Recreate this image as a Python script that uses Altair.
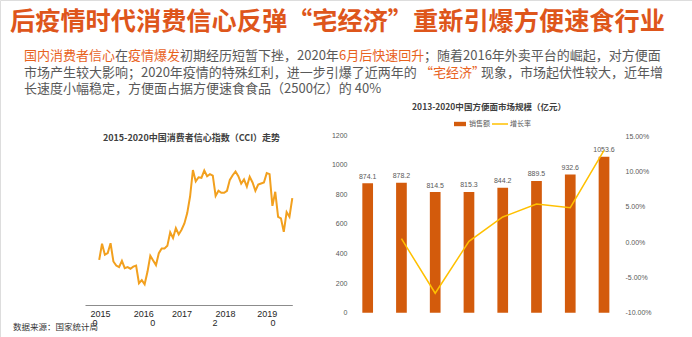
import altair as alt
import pandas as pd

# ---------------- data ----------------
TITLE = "后疫情时代消费信心反弹“宅经济”重新引爆方便速食行业"

line1_texts = ["国内消费者信心", "在", "疫情爆发", "初期经历短暂下挫，2020年", "6月后快速回升", "；随着2016年外卖平台的崛起，对方便面"]
line1_hl = [True, False, True, False, True, False]
line2_texts = ["市场产生较大影响；2020年疫情的特殊红利，进一步引爆了近两年的", "“宅经济”", "现象，市场起伏性较大，近年增"]
line2_hl = [False, True, False]
line3_texts = ["长速度小幅稳定，方便面占据方便速食食品（2500亿）的 40%"]
line3_hl = [False]

CCI_TITLE = "2015-2020中国消费者信心指数（CCI）走势"
cci_values = [104.7, 107.8, 105.7, 106.0, 107.9, 104.4, 103.6, 103.3, 104.5, 103.1, 103.3, 103.0,
              103.4, 103.6, 100.2, 100.8, 100.0, 102.4, 105.5, 104.6, 103.7, 106.0, 106.9, 106.9,
              107.4, 110.0, 108.9, 110.8, 109.6, 110.5, 111.7, 113.7, 116.9, 122.0, 119.8, 120.6,
              120.5, 121.9, 120.8, 121.2, 120.9, 117.0, 118.0, 117.6, 117.6, 118.0, 120.1, 121.0,
              121.7, 120.8, 119.4, 120.2, 118.8, 120.7, 119.6, 118.0, 119.2, 119.4, 119.6, 121.4,
              121.2, 115.1, 117.8, 113.0, 112.7, 110.1, 113.9, 113.0, 116.6]
cci_tick_labels = ["2015", "2016", "2017", "2018", "2019"]
cci_tick_pos = [0.3, 15.5, 29.0, 44.3, 59.0]
cci_extra_labels = ["0", "0", "2", "0"]
cci_extra_pos = [-1.5, 18.9, 40.8, 61.2]
SOURCE = "数据来源：国家统计局"

MKT_TITLE = "2013-2020中国方便面市场规模（亿元）"
years = ["2013", "2014", "2015", "2016", "2017", "2018", "2019", "2020"]
sales = [874.1, 878.2, 814.5, 815.3, 844.2, 889.5, 932.6, 1053.6]
growth_years = ["2014", "2015", "2016", "2017", "2018", "2019", "2020"]
growth = [0.0047, -0.0725, 0.0010, 0.0354, 0.0537, 0.0485, 0.1297]
sales_ticks = [0, 200, 400, 600, 800, 1000, 1200]
growth_ticks = [-0.10, -0.05, 0.0, 0.05, 0.10, 0.15]
legend_labels = ["销售额", "增长率"]

# ---------------- styles ----------------
FONT = "Noto Sans CJK SC"
GREY = "#595959"
HL = "#E8621E"
TITLE_C = "#DE561B"
BAR_C = "#D35B0C"
LINE_C = "#FFC000"
CCI_C = "#F2A01E"


def txt(s, x, y, size, color, weight="normal", align="left", font=FONT):
    return alt.Chart(pd.DataFrame({"t": [s]})).mark_text(
        align=align, baseline="middle", fontSize=size, color=color,
        fontWeight=weight, font=font
    ).encode(x=alt.value(x), y=alt.value(y), text="t:N")


layers = []
# header
layers.append(txt(TITLE, 10, 21.5, 25.2, TITLE_C, weight="bold"))
for texts, hls, xs, y in [
    (line1_texts, line1_hl, [24, 115, 128, 180, 339, 424], 56),
    (line2_texts, line2_hl, [24, 420, 481], 72.7),
    (line3_texts, line3_hl, [24], 89),
]:
    for t, h, x in zip(texts, hls, xs):
        layers.append(txt(t, x, y, 13, HL if h else GREY))

# ---------------- CCI chart ----------------
xs_cci = alt.Scale(domain=[-5, 68], range=[85, 292.3], nice=False, zero=False)
expr = "''"
for p, l in reversed(list(zip(cci_tick_pos, cci_tick_labels))):
    expr = f"abs(datum.value - {p}) < 0.01 ? '{l}' : ({expr})"

cci_df = pd.DataFrame({"m": list(range(len(cci_values))), "v": cci_values})
cci_line = alt.Chart(cci_df).mark_line(color=CCI_C, strokeWidth=2).encode(
    x=alt.X("m:Q", scale=xs_cci, axis=alt.Axis(
        orient="bottom", offset=-32, values=cci_tick_pos, labelExpr=expr,
        grid=False, ticks=False, domainColor="#8C8C8C", domainWidth=1.2,
        labelFontSize=9, labelColor="#262626", labelFont="Liberation Sans",
        labelPadding=4, title=None, labelFlush=False, labelOverlap=False)),
    y=alt.Y("v:Q", scale=alt.Scale(domain=[100, 122], range=[284.3, 170], zero=False, nice=False), axis=None),
)
frag_df = pd.DataFrame({"p": cci_extra_pos, "t": cci_extra_labels})
cci_frag = alt.Chart(frag_df).mark_text(
    fontSize=9, color="#262626", font="Liberation Sans", baseline="middle"
).encode(x=alt.X("p:Q", scale=xs_cci, axis=None), y=alt.value(323), text="t:N")
layers.append(cci_line)
layers.append(cci_frag)
layers.append(txt(CCI_TITLE, 191.5, 138, 9, "#404040", weight="bold", align="center"))
layers.append(txt(SOURCE, 13, 327, 8.5, "#333333"))

# ---------------- market chart ----------------
xs_bar = alt.Scale(domain=years, range=[350.8, 620.9], paddingInner=0.683, paddingOuter=0.3415)
ys_bar = alt.Scale(domain=[0, 1200], range=[312.7, 135], nice=False, zero=True)
sales_df = pd.DataFrame({"year": years, "sales": sales})
growth_df = pd.DataFrame({"year": growth_years, "g": growth})

bars = alt.Chart(sales_df).mark_bar(color=BAR_C).encode(
    x=alt.X("year:N", scale=xs_bar, sort=None, axis=alt.Axis(
        orient="bottom", offset=-24.3, labelAngle=0, ticks=False,
        domainColor="#D9D9D9", labelFontSize=7, labelColor=GREY,
        labelFont="Liberation Sans", labelPadding=3, title=None, grid=False)),
    y=alt.Y("sales:Q", scale=ys_bar, axis=alt.Axis(
        orient="left", offset=-349, values=sales_ticks, format="d", domain=False, ticks=False,
        grid=False, labelFontSize=7, labelColor=GREY, labelFont="Liberation Sans",
        labelPadding=2, title=None)),
)
blabels = alt.Chart(sales_df).mark_text(
    dy=-6.5, fontSize=7, color=GREY, font="Liberation Sans", baseline="middle"
).encode(
    x=alt.X("year:N", scale=xs_bar, sort=None, axis=None),
    y=alt.Y("sales:Q", scale=ys_bar, axis=None),
    text=alt.Text("sales:Q", format=".1f"),
)
gline = alt.Chart(growth_df).mark_line(color=LINE_C, strokeWidth=1.5).encode(
    x=alt.X("year:N", scale=xs_bar, sort=None, axis=None),
    y=alt.Y("g:Q", scale=alt.Scale(domain=[-0.10, 0.15], range=[312.7, 136], nice=False, zero=False),
            axis=alt.Axis(orient="right", offset=-69, values=growth_ticks,
                          labelExpr="replace(format(datum.value, '.2%'), '\u2212', '-')",
                          domain=False, ticks=False, grid=False, labelFontSize=7,
                          labelColor=GREY, labelFont="Liberation Sans", labelPadding=2, title=None)),
)
layers.append(alt.layer(bars, blabels, gline).resolve_scale(y="independent"))
layers.append(txt(MKT_TITLE, 489, 107, 8.5, "#404040", weight="bold", align="center"))

# legend
dummy = pd.DataFrame({"a": [0]})
layers.append(alt.Chart(dummy).mark_rect(color=BAR_C).encode(
    x=alt.value(454), x2=alt.value(466), y=alt.value(121.8), y2=alt.value(126.2)))
layers.append(alt.Chart(dummy).mark_rule(color=LINE_C, strokeWidth=1.5).encode(
    x=alt.value(492), x2=alt.value(508), y=alt.value(124)))
layers.append(txt(legend_labels[0], 469, 124, 7, GREY))
layers.append(txt(legend_labels[1], 510, 124, 7, GREY))

chart = alt.layer(*layers).resolve_scale(x="independent", y="independent").properties(
    width=692, height=337, autosize=alt.AutoSizeParams(type="none"), padding=0
).configure_view(stroke=None).configure(font=FONT, background="white")

chart.save("out.html", embed_options={"renderer": "svg", "actions": False})
